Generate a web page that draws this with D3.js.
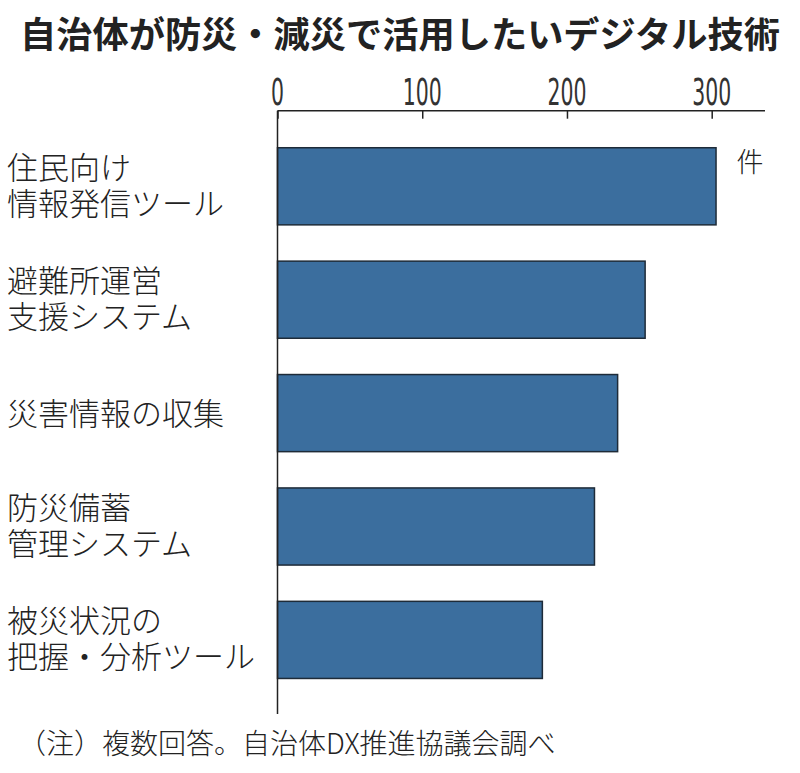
<!DOCTYPE html>
<html><head><meta charset="utf-8">
<script src="https://cdn.jsdelivr.net/npm/d3@7"></script>
<style>body{margin:0;background:#fff}svg{display:block}</style>
</head><body>
<script>
const title = "自治体が防災・減災で活用したいデジタル技術";
const categories = [
  ["住民向け", "情報発信ツール"],
  ["避難所運営", "支援システム"],
  ["災害情報の収集"],
  ["防災備蓄", "管理システム"],
  ["被災状況の", "把握・分析ツール"]
];
const values = [303, 254, 235, 219, 183];
const tickValues = [0, 100, 200, 300];
const unit = "件";
const note = "（注）複数回答。自治体DX推進協議会調べ";

const W = 800, H = 773;
const font = "'Noto Sans CJK JP', 'Noto Sans', sans-serif";
const svg = d3.select("body").append("svg").attr("width", W).attr("height", H);

const x = d3.scaleLinear().domain([0, 300]).range([277.5, 711.7]);
const keys = categories.map((c, i) => i);
const y = d3.scaleBand().domain(keys).range([129.6, 696.6]).paddingInner(0.32).paddingOuter(0.16);

// title
svg.append("text").attr("x", 20).attr("y", 32).attr("dominant-baseline", "central")
  .attr("font-family", font).attr("font-weight", 700).attr("font-size", 36)
  .attr("fill", "#222").attr("textLength", 760).attr("lengthAdjust", "spacingAndGlyphs").text(title);

// bars
svg.append("g").selectAll("rect").data(values).join("rect")
  .attr("x", x(0)).attr("y", (d, i) => y(i))
  .attr("width", d => x(d) - x(0)).attr("height", y.bandwidth())
  .attr("fill", "#3b6e9e").attr("stroke", "#1e2b38").attr("stroke-width", 1.5);

// top axis
const axisY = 110.7;
const ax = svg.append("g").attr("transform", `translate(0,${axisY})`)
  .call(d3.axisBottom(x).tickValues(tickValues).tickSize(8).tickFormat(""));
ax.select(".domain").remove();
ax.selectAll(".tick line").attr("stroke", "#222").attr("stroke-width", 1.5);
svg.append("line").attr("x1", x(0)).attr("x2", 765).attr("y1", axisY).attr("y2", axisY)
  .attr("stroke", "#222").attr("stroke-width", 1.5);
svg.append("line").attr("x1", x(0)).attr("x2", x(0)).attr("y1", axisY).attr("y2", 714)
  .attr("stroke", "#222").attr("stroke-width", 1.5);
svg.append("g").selectAll("text").data(tickValues).join("text")
  .attr("x", d => x(d)).attr("y", 105).attr("text-anchor", "middle")
  .attr("font-family", "'DejaVu Sans', sans-serif").attr("font-stretch", "condensed")
  .attr("font-size", 37).attr("fill", "#333")
  .attr("textLength", d => String(d).length * 13).attr("lengthAdjust", "spacingAndGlyphs")
  .text(d => d);

// unit
svg.append("text").attr("x", 750).attr("y", 160).attr("text-anchor", "middle")
  .attr("dominant-baseline", "central").attr("font-family", font).attr("font-weight", 300)
  .attr("font-size", 27).attr("fill", "#222").text(unit);

// category labels (one text per line)
const lineGap = 36;
const labelLines = [];
categories.forEach((lines, i) => {
  const cy = y(i) + y.bandwidth() / 2 - (lines.length > 1 ? 3 : 2);
  lines.forEach((ln, j) => labelLines.push({ text: ln, y: cy + (j - (lines.length - 1) / 2) * lineGap }));
});
svg.append("g").selectAll("text").data(labelLines).join("text")
  .attr("x", 7).attr("y", d => d.y).attr("dominant-baseline", "central")
  .attr("font-family", font).attr("font-weight", 300).attr("font-size", 31).attr("fill", "#222")
  .text(d => d.text);

// note
svg.append("text").attr("x", 18).attr("y", 742).attr("dominant-baseline", "central")
  .attr("font-family", font).attr("font-weight", 300).attr("font-size", 28).attr("fill", "#222").text(note);
</script>
</body></html>
